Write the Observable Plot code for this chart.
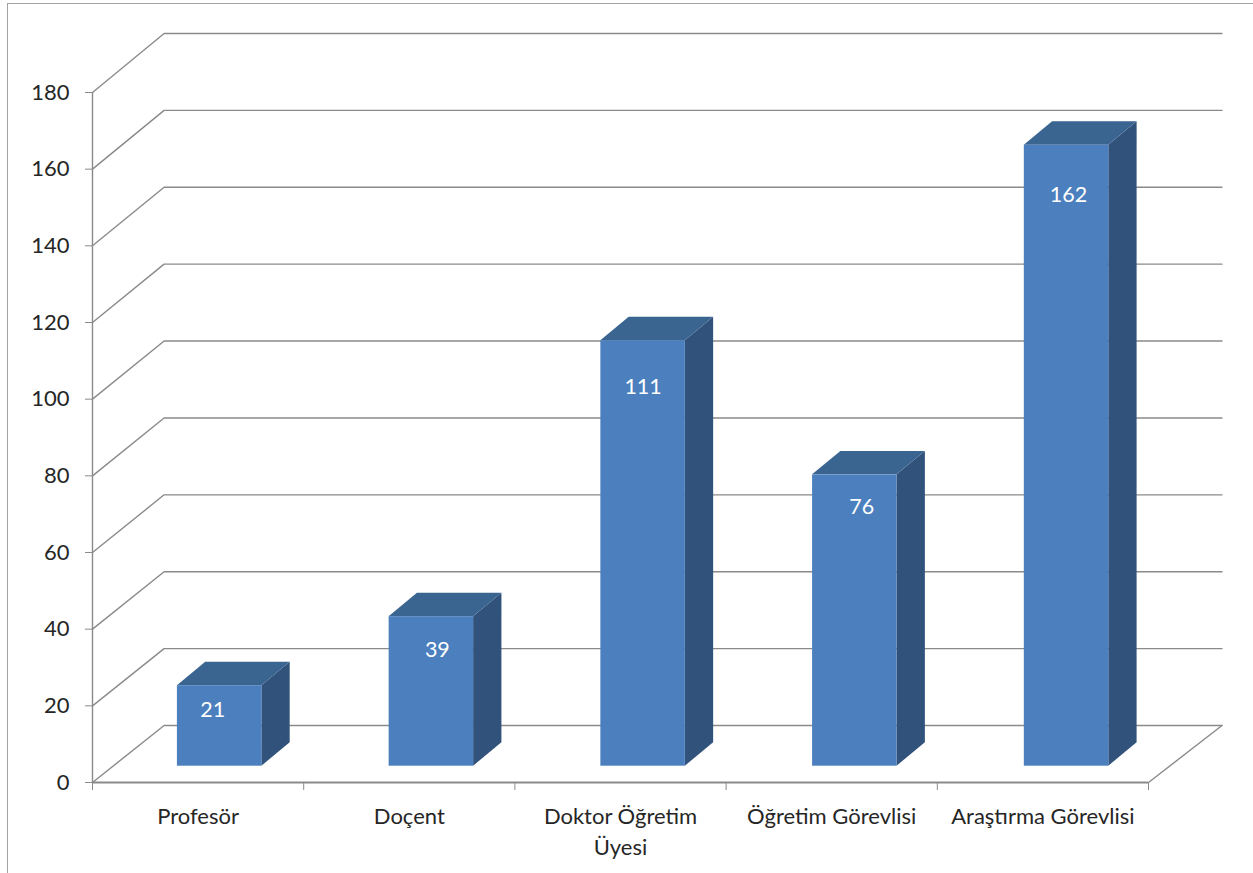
<!DOCTYPE html>
<html lang="tr">
<head>
<meta charset="utf-8">
<title>Akademik personel</title>
<script src="https://cdn.jsdelivr.net/npm/d3@7"></script>
<script src="https://cdn.jsdelivr.net/npm/@observablehq/plot@0.6"></script>
<style>
  html, body { margin: 0; padding: 0; background: #fff; overflow: hidden; }
  #chart { position: relative; width: 1253px; height: 873px; }
  #chart svg { display: block; background: transparent; }
  #frame { position: absolute; left: 7px; top: 3px; right: 0; bottom: 0;
           border-left: 1.5px solid #a3a3a3; border-top: 1.5px solid #a3a3a3; }
</style>
</head>
<body>
<div id="chart"><div id="frame"></div></div>
<script>
// Data
const categories = ["Profesör", "Doçent", "Doktor Öğretim\nÜyesi", "Öğretim Görevlisi", "Araştırma Görevlisi"];
const values = [21, 39, 111, 76, 162];
const yTicks = [0, 20, 40, 60, 80, 100, 120, 140, 160, 180];
// Hand-placed label nudges seen in the picture, px from the top centre of each bar's front face
const labelNudge = [[-7, 24], [6, 33], [0, 46], [7, 32], [2, 50]];

// Pseudo-3D geometry, in data units of the two scales
const wallX = 0.339, xMax = 5.348;            // depth of the box along x
const yMax = 195.39;                          // top of the back wall
const back = v => v * 1.0029 + 14.87;         // a value's height on the back wall
const barGap = 0.3, barWidth = 0.4;           // share of a category's band
const floorX = 0.102, floorY = 4.25;          // bar's inset into the floor
const depthX = 0.134, depthY = 6.1;           // bar's own depth

const bars = values.map((v, i) => {
  const left = i + barGap + floorX + i * 0.0025;
  return {i, v, left, right: left + barWidth, base: floorY, top: floorY + v};
});

const grid = yTicks.flatMap(v => [
  {v, x: 0, y: v},
  {v, x: wallX, y: back(v)},
  {v, x: xMax, y: back(v)}
]);
const floorEdge = [{x: 5, y: 0}, {x: xMax, y: back(0)}];

const sideFace = bars.flatMap(b => [
  {i: b.i, x: b.right, y1: b.base, y2: b.top},
  {i: b.i, x: b.right + depthX, y1: b.base + depthY, y2: b.top + depthY}
]);
const topFace = bars.flatMap(b => [
  {i: b.i, y: b.top, x1: b.left, x2: b.right},
  {i: b.i, y: b.top + depthY, x1: b.left + depthX, x2: b.right + depthX}
]);

const lineColor = "#8a8a8a", textColor = "#262626", font = "Lato, 'Open Sans', sans-serif";

const chart = Plot.plot({
  width: 1253,
  height: 873,
  marginLeft: 92,
  marginRight: 31.5,
  marginTop: 33,
  marginBottom: 91,
  style: {fontFamily: font, background: "transparent"},
  x: {type: "linear", domain: [0, xMax], range: [92, 1221.5]},
  y: {type: "linear", domain: [0, yMax], range: [782, 33]},
  marks: [
    Plot.line(grid, {x: "x", y: "y", z: "v", stroke: lineColor, strokeWidth: 1.4}),
    Plot.line(floorEdge, {x: "x", y: "y", stroke: lineColor, strokeWidth: 1.4}),
    Plot.ruleX([0], {y1: 0, y2: 180, stroke: lineColor, strokeWidth: 1.4}),
    Plot.ruleY([0], {x1: 0, x2: 5, stroke: lineColor, strokeWidth: 2}),
    Plot.axisY({
      ticks: yTicks, tickSize: 7, tickPadding: 16, label: null,
      fontSize: 22, color: textColor, stroke: lineColor, strokeOpacity: 1
    }),
    Plot.axisX({
      ticks: d3.range(6), tickSize: 8, tickFormat: () => "", label: null,
      stroke: lineColor, strokeOpacity: 1
    }),
    Plot.areaY(sideFace, {x: "x", y1: "y1", y2: "y2", z: "i", fill: "#30527b"}),
    Plot.areaX(topFace, {y: "y", x1: "x1", x2: "x2", z: "i", fill: "#3b6591"}),
    Plot.rect(bars, {x1: "left", x2: "right", y1: "base", y2: "top", fill: "#4b7fbe"}),
    ...bars.map(b => Plot.text([b], {
      x: d => (d.left + d.right) / 2,
      y: "top",
      text: "v",
      dx: labelNudge[b.i][0],
      dy: labelNudge[b.i][1],
      fill: "white",
      fontSize: 21.5
    })),
    Plot.text(categories, {
      x: (d, i) => i + 0.5,
      y: () => 0,
      text: d => d,
      lineAnchor: "top",
      dy: 19,
      lineHeight: 1.41,
      fontSize: 22,
      fill: textColor
    })
  ]
});
document.getElementById("chart").prepend(chart);
</script>
</body>
</html>
